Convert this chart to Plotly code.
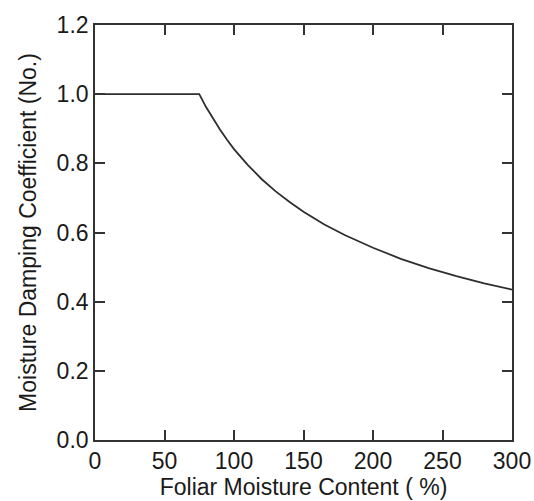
import plotly.graph_objects as go

moisture = [0, 75, 80, 85, 90, 95, 100, 110, 120, 130, 140, 150, 165, 180, 200, 220, 240, 260, 280, 300]
damping = [1.0, 1.0, 0.962, 0.928, 0.897, 0.868, 0.841, 0.795, 0.754, 0.719, 0.688, 0.660,
           0.623, 0.592, 0.556, 0.524, 0.497, 0.474, 0.453, 0.435]

x_ticks = [0, 50, 100, 150, 200, 250, 300]
y_ticks = [0.0, 0.2, 0.4, 0.6, 0.8, 1.0, 1.2]

fig = go.Figure()
fig.add_trace(go.Scatter(x=moisture, y=damping, mode="lines",
                         line=dict(color="#2e2e2e", width=1.8),
                         showlegend=False))

font = dict(family="Liberation Sans, Arial, sans-serif", size=23, color="#1a1a1a")
axis_common = dict(showgrid=False, zeroline=False, showline=True, linecolor="#333333", linewidth=1.6,
                   mirror="ticks", ticks="inside", ticklen=10, tickwidth=1.6, tickcolor="#333333",
                   tickfont=font, automargin=False)

fig.update_xaxes(range=[0, 300], tickvals=x_ticks, ticktext=[str(v) for v in x_ticks],
                 title=dict(text="Foliar Moisture Content ( %)", font=font, standoff=0), **axis_common)
fig.update_yaxes(range=[0, 1.2], tickvals=y_ticks, ticktext=[f"{v:.1f}" for v in y_ticks],
                 title=dict(text="Moisture Damping Coefficient (No.)", font=font, standoff=14), **axis_common)

fig.update_layout(width=534, height=501, margin=dict(l=95, r=22, t=25, b=61),
                  paper_bgcolor="white", plot_bgcolor="white", font=font)

fig.write_html("out.html")
